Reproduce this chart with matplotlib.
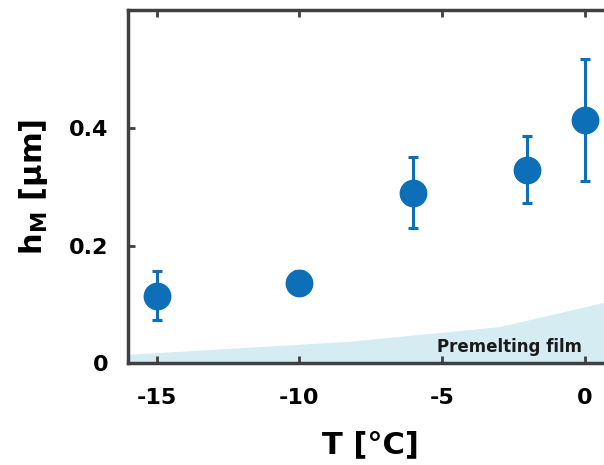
import matplotlib
matplotlib.use("Agg")
import matplotlib.pyplot as plt

# measured points
T = [-15, -10, -6, -2, 0]
h = [0.115, 0.137, 0.290, 0.329, 0.413]
h_err = [0.041, 0.020, 0.060, 0.057, 0.104]

# premelting film thickness
T_film = [-16, -8.3, -3, 1]
h_film = [0.015, 0.037, 0.062, 0.107]

plt.rcParams['font.family'] = ['DejaVu Sans']
plt.rcParams['font.weight'] = 'bold'
plt.rcParams['axes.unicode_minus'] = False
plt.rcParams['mathtext.fontset'] = 'custom'
plt.rcParams['mathtext.rm'] = 'DejaVu Sans:bold'

blue = '#0d6fb8'
fig = plt.figure(figsize=(6.04, 4.65), dpi=100)
ax = fig.add_axes([0.212, 0.219, 0.803, 0.759])

ax.fill_between(T_film, 0, h_film, color='#d4ecf2', lw=0, zorder=1)
ax.errorbar(T, h, yerr=h_err, fmt='o', color=blue, ms=19, elinewidth=2.2,
            capsize=3.6, capthick=2.2, zorder=3)
ax.text(-0.1, 0.012, 'Premelting film', fontsize=12, fontweight='bold',
        ha='right', va='bottom', color='#1a1a1a', zorder=2)

ax.set_xlim(-16, 1)
ax.set_ylim(0, 0.6)
ax.set_xticks([-15, -10, -5, 0])
ax.set_yticks([0, 0.2, 0.4])
ax.set_yticklabels(['0', '0.2', '0.4'])
ax.tick_params(direction='in', length=5, width=2, color='#404040',
               labelsize=16, top=True, pad=18)
ax.tick_params(axis='y', pad=14)
for s in ax.spines.values():
    s.set_linewidth(2.5)
    s.set_color('#404040')

ax.set_xlabel('T [°C]', fontsize=22, fontweight='bold', labelpad=16)
ax.set_ylabel(r'h$_\mathrm{M}$ [µm]', fontsize=22, fontweight='bold', labelpad=14)

fig.savefig('out.png', dpi=100)
